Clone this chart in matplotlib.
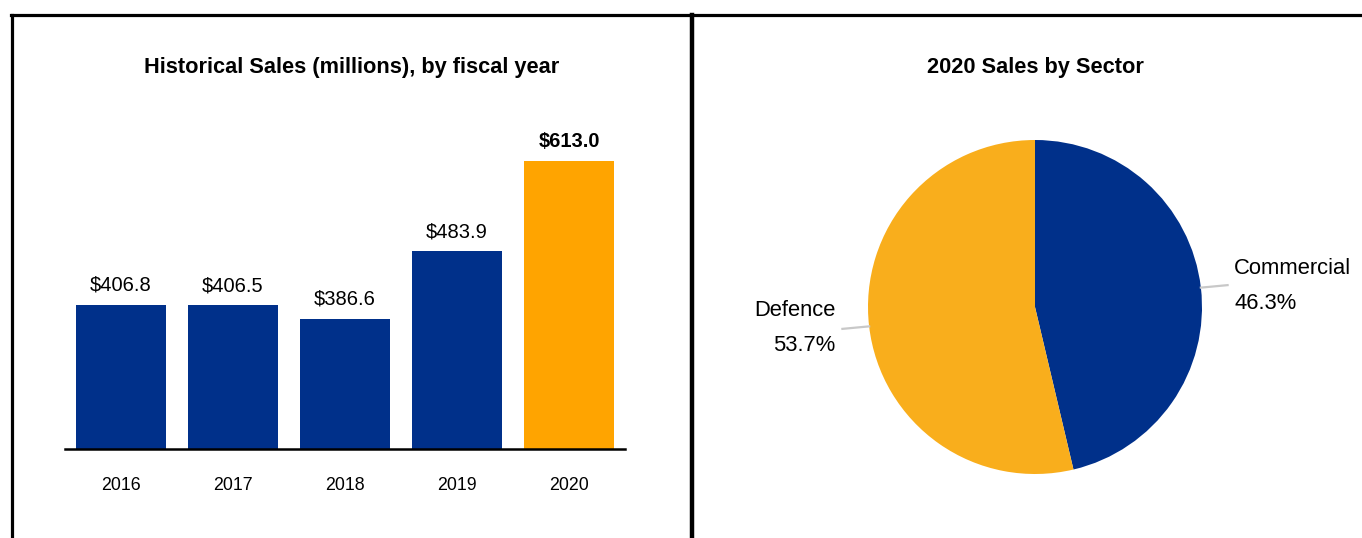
import matplotlib
matplotlib.use('Agg')
import matplotlib.pyplot as plt
from matplotlib.lines import Line2D
from matplotlib import font_manager
import numpy as np

years = ['2016', '2017', '2018', '2019', '2020']
sales = [406.8, 406.5, 386.6, 483.9, 613.0]

sectors = ['Commercial', 'Defence']
sector_share = [46.3, 53.7]

navy = '#00308A'
bar_orange = '#FFA400'
pie_orange = '#F9AE1C'

names = {f.name for f in font_manager.fontManager.ttflist}
font = 'Liberation Sans Narrow' if 'Liberation Sans Narrow' in names else 'Liberation Sans'
plt.rcParams['font.family'] = [font, 'DejaVu Sans']

W, H = 1362, 538
fig = plt.figure(figsize=(W / 100, H / 100), dpi=100)

# frame lines: top, left edge, middle divider
fig.add_artist(Line2D([11 / W, 1], [1 - 14.5 / H] * 2, color='black', lw=2.3))
fig.add_artist(Line2D([11.5 / W] * 2, [0, 1 - 14.5 / H], color='black', lw=2.3))
fig.add_artist(Line2D([692 / W] * 2, [0, 1 - 14.5 / H], color='black', lw=3.2))

# bar chart of yearly sales
ax = fig.add_axes([65 / W, 89 / H, 560 / W, 349 / H])
colors = [navy] * 4 + [bar_orange]
bars = ax.bar(range(len(years)), sales, width=0.795, color=colors)
ax.set_xlim(-0.5, 4.5)
ax.set_ylim(200, 700)
for i, (b, v) in enumerate(zip(bars, sales)):
    ax.text(b.get_x() + b.get_width() / 2, v + 14, f'${v:.1f}',
            ha='center', va='bottom', fontsize=14.5,
            fontweight='bold' if i == len(sales) - 1 else 'normal')
for s in ['top', 'right', 'left']:
    ax.spines[s].set_visible(False)
ax.spines['bottom'].set_linewidth(1.8)
ax.set_yticks([])
ax.set_xticks(range(len(years)))
ax.set_xticklabels(years, fontsize=12.8)
ax.tick_params(axis='x', length=0, pad=20.5)
fig.text(352 / W, 1 - 67 / H, 'Historical Sales (millions), by fiscal year',
         ha='center', va='center', fontsize=15.7, fontweight='bold')

# pie of 2020 sales by sector
R = 167
cx, cy = 1035, 307
pax = fig.add_axes([(cx - R) / W, (H - cy - R) / H, 2 * R / W, 2 * R / H])
wedges, _ = pax.pie(sector_share, colors=[navy, pie_orange], startangle=90,
                    counterclock=False, radius=1)
pax.set_xlim(-1, 1)
pax.set_ylim(-1, 1)
pax.set_aspect('equal')
pax.axis('off')

for w, name, pct in zip(wedges, sectors, sector_share):
    ang = np.deg2rad((w.theta1 + w.theta2) / 2)
    x, y = np.cos(ang), np.sin(ang)
    side = 1 if x > 0 else -1
    pax.plot([x, x + side * 0.16], [y, y + 0.015 * side], color='#c8c8c8', lw=1.6,
             clip_on=False)
    pax.text(x + side * 0.2, y + (0.01 if side > 0 else -0.01), f'{name}\n{pct:.1f}%',
             ha='left' if side > 0 else 'right', va='center',
             fontsize=15.8, linespacing=1.85, clip_on=False,
             multialignment='left' if side > 0 else 'right')

fig.text(1035 / W, 1 - 67 / H, '2020 Sales by Sector',
         ha='center', va='center', fontsize=15.7, fontweight='bold')

fig.savefig('out.png', dpi=100)
